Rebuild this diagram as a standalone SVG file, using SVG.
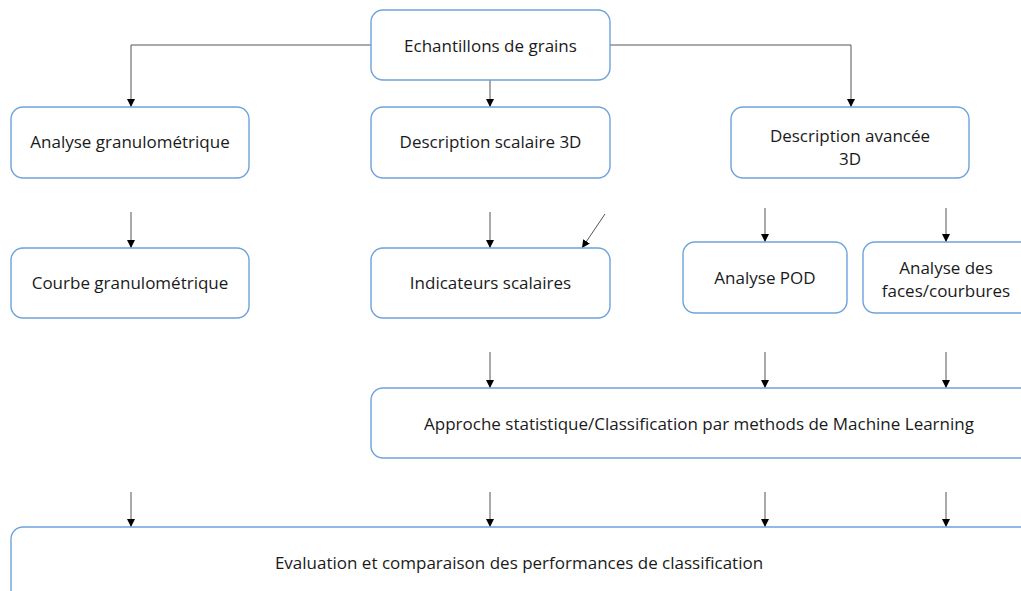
<svg xmlns="http://www.w3.org/2000/svg" width="1021" height="591" viewBox="0 0 1021 591">
<defs>
<marker id="ah" viewBox="0 0 10 10" refX="10" refY="5" markerWidth="8" markerHeight="8" markerUnits="userSpaceOnUse" orient="auto"><path d="M0,0 L10,5 L0,10 z" fill="#000"/></marker>
<style>
.box{fill:#fff;stroke:#6fa2dc;stroke-width:1.4}
.t{font-family:"Open Sans","Liberation Sans",sans-serif;font-size:17px;fill:#1a1a1a;text-anchor:middle}
.c{fill:none;stroke:#555;stroke-width:1;marker-end:url(#ah)}
</style>
</defs>
<rect width="1021" height="591" fill="#fff"/>
<g id="connectors">
<path class="c" d="M371,45 H131 V107"/>
<path class="c" d="M610,45 H851 V107"/>
<path class="c" d="M490,80 V107"/>
<path class="c" d="M131,212 V248"/>
<path class="c" d="M490,212 V248"/>
<path class="c" d="M605,214 L582,248"/>
<path class="c" d="M765,208 V242"/>
<path class="c" d="M946,208 V242"/>
<path class="c" d="M490,352 V388"/>
<path class="c" d="M765,352 V388"/>
<path class="c" d="M946,352 V388"/>
<path class="c" d="M131,492 V527"/>
<path class="c" d="M490,492 V527"/>
<path class="c" d="M765,492 V527"/>
<path class="c" d="M946,492 V527"/>
</g>
<g id="n1"><rect class="box" x="371" y="10" width="239" height="70" rx="12"/><text class="t" x="490.5" y="52">Echantillons de grains</text></g>
<g id="n2"><rect class="box" x="11" y="107" width="238" height="71" rx="12"/><text class="t" x="130" y="148">Analyse granulométrique</text></g>
<g id="n3"><rect class="box" x="371" y="107" width="239" height="71" rx="12"/><text class="t" x="490.5" y="148">Description scalaire 3D</text></g>
<g id="n4"><rect class="box" x="731" y="107" width="238" height="71" rx="12"/><text class="t" x="850" y="142">Description avancée</text><text class="t" x="850" y="165">3D</text></g>
<g id="n5"><rect class="box" x="11" y="248" width="238" height="70" rx="12"/><text class="t" x="130" y="289">Courbe granulométrique</text></g>
<g id="n6"><rect class="box" x="371" y="248" width="239" height="70" rx="12"/><text class="t" x="490.5" y="289">Indicateurs scalaires</text></g>
<g id="n7"><rect class="box" x="683" y="242" width="164" height="71" rx="12"/><text class="t" x="765" y="284">Analyse POD</text></g>
<g id="n8"><rect class="box" x="863" y="242" width="170" height="71" rx="12"/><text class="t" x="946" y="274">Analyse des</text><text class="t" x="946" y="297">faces/courbures</text></g>
<g id="n9"><rect class="box" x="371" y="388" width="662" height="70" rx="12"/><text class="t" x="699" y="430">Approche statistique/Classification par methods de Machine Learning</text></g>
<g id="n10"><rect class="box" x="11" y="527" width="1022" height="80" rx="12"/><text class="t" x="519" y="569">Evaluation et comparaison des performances de classification</text></g>
</svg>
